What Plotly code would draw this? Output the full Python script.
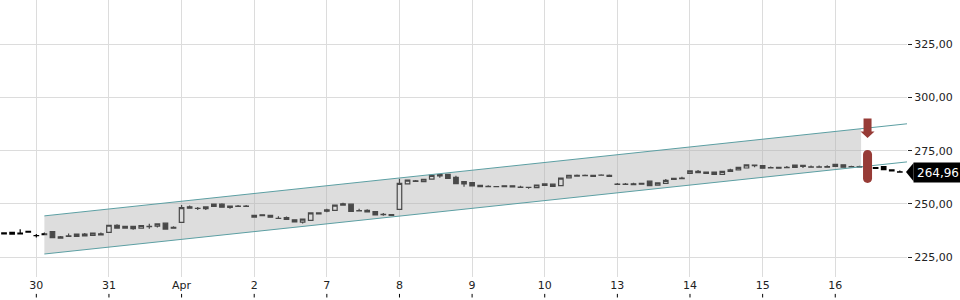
import plotly.graph_objects as go
import numpy as np

# ---- data (hourly candles, index-based x axis) ----
open_ = [236.4, 235.8, 236.3, 237.1, 235.1, 236.0, 237.0, 234.6, 235.0, 234.8,
         235.9, 235.2, 236.0, 236.7, 240.0, 238.6, 239.5, 238.6, 239.4, 239.6,
         241.0, 239.0, 241.4, 248.7, 247.9, 247.8, 248.9, 249.9, 249.0, 249.0,
         249.0, 243.8, 244.9, 244.7, 243.3, 243.6, 242.6, 241.5, 242.3, 245.8,
         247.2, 247.0, 250.1, 249.9, 246.9, 247.0, 246.4, 245.0, 245.0, 247.5,
         259.4, 260.9, 260.5, 261.7, 263.8, 263.9, 262.5, 259.4, 260.0, 258.7,
         258.3, 258.2, 258.5, 258.5, 257.9, 257.85, 257.7, 259.4, 259.3, 258.6,
         262.3, 263.5, 263.4, 263.5, 263.6, 263.4, 259.3, 259.3, 259.5, 259.7,
         260.7, 258.8, 259.7, 262.0, 262.2, 264.4, 265.3, 265.0, 265.0, 263.9,
         266.0, 266.0, 266.9, 268.3, 268.0, 267.1, 267.2, 267.2, 267.2, 268.1,
         267.4, 267.4, 267.6, 267.7, 268.4, 267.5, 267.5, 267.3, 267.1, 267.6,
         266.0, 265.1]
high = [236.5, 236.7, 238.1, 237.1, 235.9, 236.6, 237.0, 235.0, 236.1, 235.8,
        236.4, 236.3, 236.6, 240.0, 240.5, 239.5, 239.5, 239.8, 240.7, 240.7,
        241.0, 239.5, 249.5, 249.3, 248.6, 248.7, 249.9, 250.3, 249.0, 249.5,
        249.5, 244.7, 244.9, 244.7, 244.2, 244.1, 242.6, 242.9, 245.8, 245.8,
        247.8, 249.5, 250.6, 249.9, 247.8, 247.5, 246.4, 245.8, 245.2, 261.8,
        261.2, 261.2, 261.6, 263.4, 263.9, 263.9, 263.2, 260.5, 260.0, 258.7,
        258.8, 258.2, 258.5, 258.5, 258.5, 257.85, 258.9, 259.6, 259.3, 262.1,
        263.5, 263.9, 263.8, 263.5, 264.0, 263.8, 259.8, 259.9, 260.0, 259.7,
        260.7, 259.9, 261.7, 262.0, 262.8, 265.5, 266.0, 265.0, 265.0, 265.3,
        266.5, 267.2, 268.4, 268.3, 268.0, 267.6, 267.2, 267.8, 268.2, 268.1,
        268.1, 268.1, 268.2, 268.6, 268.4, 268.0, 268.0, 267.3, 267.1, 267.6,
        266.0, 265.7]
low = [236.0, 235.8, 235.8, 236.8, 234.3, 235.6, 234.2, 234.0, 234.8, 234.8,
       235.0, 235.2, 235.5, 236.7, 238.7, 238.6, 237.9, 238.6, 238.4, 238.9,
       238.2, 238.6, 241.4, 248.0, 247.2, 247.2, 248.9, 248.5, 247.7, 248.9,
       248.9, 243.8, 244.5, 243.8, 243.2, 242.7, 241.6, 240.8, 242.3, 245.3,
       246.1, 247.0, 249.5, 246.5, 246.7, 246.3, 244.9, 244.5, 244.6, 247.3,
       259.4, 260.3, 260.5, 261.7, 262.3, 262.0, 259.5, 258.1, 258.5, 258.1,
       258.1, 258.15, 257.8, 258.0, 257.8, 257.2, 257.7, 258.7, 258.2, 258.6,
       262.3, 263.1, 263.3, 263.0, 263.5, 263.0, 259.2, 259.2, 259.1, 259.3,
       258.6, 258.8, 259.7, 261.5, 261.9, 264.4, 264.7, 264.3, 263.9, 263.9,
       265.3, 266.0, 266.9, 267.3, 266.8, 267.0, 266.8, 267.1, 267.2, 266.9,
       267.3, 267.3, 267.3, 267.7, 267.3, 267.4, 267.4, 267.0, 266.7, 266.1,
       265.5, 264.96]
close = [236.0, 236.7, 235.9, 236.8, 235.15, 235.6, 234.2, 234.0, 234.8, 235.8,
         235.0, 236.3, 235.5, 240.0, 238.7, 239.5, 238.4, 239.8, 239.5, 240.7,
         238.2, 238.6, 248.3, 248.0, 248.0, 248.7, 249.9, 248.5, 248.4, 248.9,
         248.9, 244.7, 244.5, 243.8, 243.2, 242.7, 241.6, 242.9, 245.8, 245.3,
         246.6, 249.5, 249.5, 246.5, 246.7, 246.3, 244.9, 245.1, 244.6, 259.7,
         261.2, 260.6, 261.6, 263.4, 263.2, 262.0, 259.5, 260.5, 258.5, 258.1,
         258.1, 258.15, 258.1, 258.0, 257.8, 257.8, 258.9, 258.7, 258.2, 262.1,
         263.5, 263.1, 263.3, 263.0, 263.5, 263.0, 259.2, 259.2, 259.1, 259.3,
         258.6, 259.9, 261.1, 261.5, 261.9, 265.5, 264.7, 264.3, 263.9, 265.3,
         265.3, 267.2, 268.4, 268.0, 266.8, 267.0, 266.8, 267.1, 268.2, 267.7,
         267.3, 267.3, 267.3, 268.6, 267.3, 267.4, 267.4, 267.0, 266.7, 266.1,
         265.5, 264.96]
idx = list(range(len(open_)))

tick_idx = [4, 13, 22, 31, 40, 49, 58, 67, 76, 85, 94, 103]
tick_text = ["30", "31", "Apr", "2", "7", "8", "9", "10", "13", "14", "15", "16"]
y_ticks = [225, 250, 275, 300, 325]

channel_idx = [5, 112]
channel_upper = [244.4, 287.7]
channel_lower = [226.5, 269.8]
channel_fill_end = 106.2

signal_idx = 107
signal_arrow_top = 290.2
signal_bar = [275.3, 259.9]

# ---- styles ----
FONT = "DejaVu Sans"
GRID = "#dcdcdc"
TEAL = "#5c9fa3"
RED = "#973b36"

fig = go.Figure()

# channel fill
fx = [channel_idx[0], channel_fill_end, channel_fill_end, channel_idx[0], channel_idx[0]]
fy = [channel_upper[0], float(np.interp(channel_fill_end, channel_idx, channel_upper)),
      float(np.interp(channel_fill_end, channel_idx, channel_lower)), channel_lower[0],
      channel_upper[0]]
fig.add_trace(go.Scatter(x=fx, y=fy, mode="lines", fill="toself",
                         fillcolor="rgba(175,175,175,0.42)", line=dict(width=0),
                         hoverinfo="skip", showlegend=False))
for ys in (channel_upper, channel_lower):
    fig.add_trace(go.Scatter(x=channel_idx, y=ys, mode="lines",
                             line=dict(color=TEAL, width=1), hoverinfo="skip",
                             showlegend=False))

fig.add_trace(go.Candlestick(
    x=idx, open=open_, high=high, low=low, close=close,
    increasing=dict(line=dict(color="black", width=1.2), fillcolor="white"),
    decreasing=dict(line=dict(color="black", width=1.2), fillcolor="black"),
    whiskerwidth=0, showlegend=False))

shapes = []
# x tick marks below the labels
for t in tick_idx:
    shapes.append(dict(type="line", xref="x", yref="paper", x0=t, x1=t,
                       y0=-0.061, y1=-0.074, line=dict(color="black", width=1)))
# signal arrow (pixel-sized, anchored at data point)
shapes.append(dict(type="path", xref="x", yref="y", xsizemode="pixel", ysizemode="pixel",
                   xanchor=signal_idx, yanchor=signal_arrow_top,
                   path="M -4,0 L 4,0 L 4,-13 L 7,-13 L 0,-19.5 L -7,-13 L -4,-13 Z",
                   fillcolor=RED, line=dict(width=0), layer="above"))
t_, b_ = signal_bar
ry = 2.1
bar_path = (f"M -4.5,{t_-ry} C -4.5,{t_-ry*0.45} -2.5,{t_} 0,{t_} "
            f"C 2.5,{t_} 4.5,{t_-ry*0.45} 4.5,{t_-ry} L 4.5,{b_+ry} "
            f"C 4.5,{b_+ry*0.45} 2.5,{b_} 0,{b_} C -2.5,{b_} -4.5,{b_+ry*0.45} -4.5,{b_+ry} Z")
shapes.append(dict(type="path", xref="x", yref="y", xsizemode="pixel",
                   xanchor=signal_idx, path=bar_path,
                   fillcolor=RED, line=dict(width=0), layer="above"))
# last price pointer
shapes.append(dict(type="path", xref="paper", yref="y", xsizemode="pixel", ysizemode="pixel",
                   xanchor=1, yanchor=close[-1], path="M -1,0 L 6.5,9.2 L 6.5,-9.2 Z",
                   fillcolor="black", line=dict(width=0), layer="above"))

fig.update_layout(
    width=960, height=300,
    margin=dict(l=0, r=53, t=0, b=23),
    paper_bgcolor="white", plot_bgcolor="white",
    separators=",.",
    font=dict(family=FONT, size=11, color="#222"),
    showlegend=False,
    boxgap=0.2,
    shapes=shapes,
    annotations=[dict(xref="paper", yref="y", x=1, y=close[-1], xanchor="left",
                      yanchor="middle", xshift=6,
                      text=f"{close[-1]:.2f}".replace(".", ","), showarrow=False,
                      bgcolor="black", font=dict(color="white", size=12, family=FONT),
                      width=42, height=13, borderpad=3, align="center")],
    xaxis=dict(range=[-0.5, 111.89], tickvals=tick_idx, ticktext=tick_text,
               ticks="", showgrid=True, gridcolor=GRID, gridwidth=1, zeroline=False,
               showline=False, rangeslider=dict(visible=False),
               tickfont=dict(size=11, color="#222")),
    yaxis=dict(side="right", range=[215.7, 345.8], tickvals=y_ticks, tickformat=".2f",
               ticks="outside", ticklen=4, tickcolor="#222", showgrid=True,
               gridcolor=GRID, gridwidth=1, zeroline=False, showline=False,
               tickfont=dict(size=11, color="#222")),
)

fig.write_html("out.html")
